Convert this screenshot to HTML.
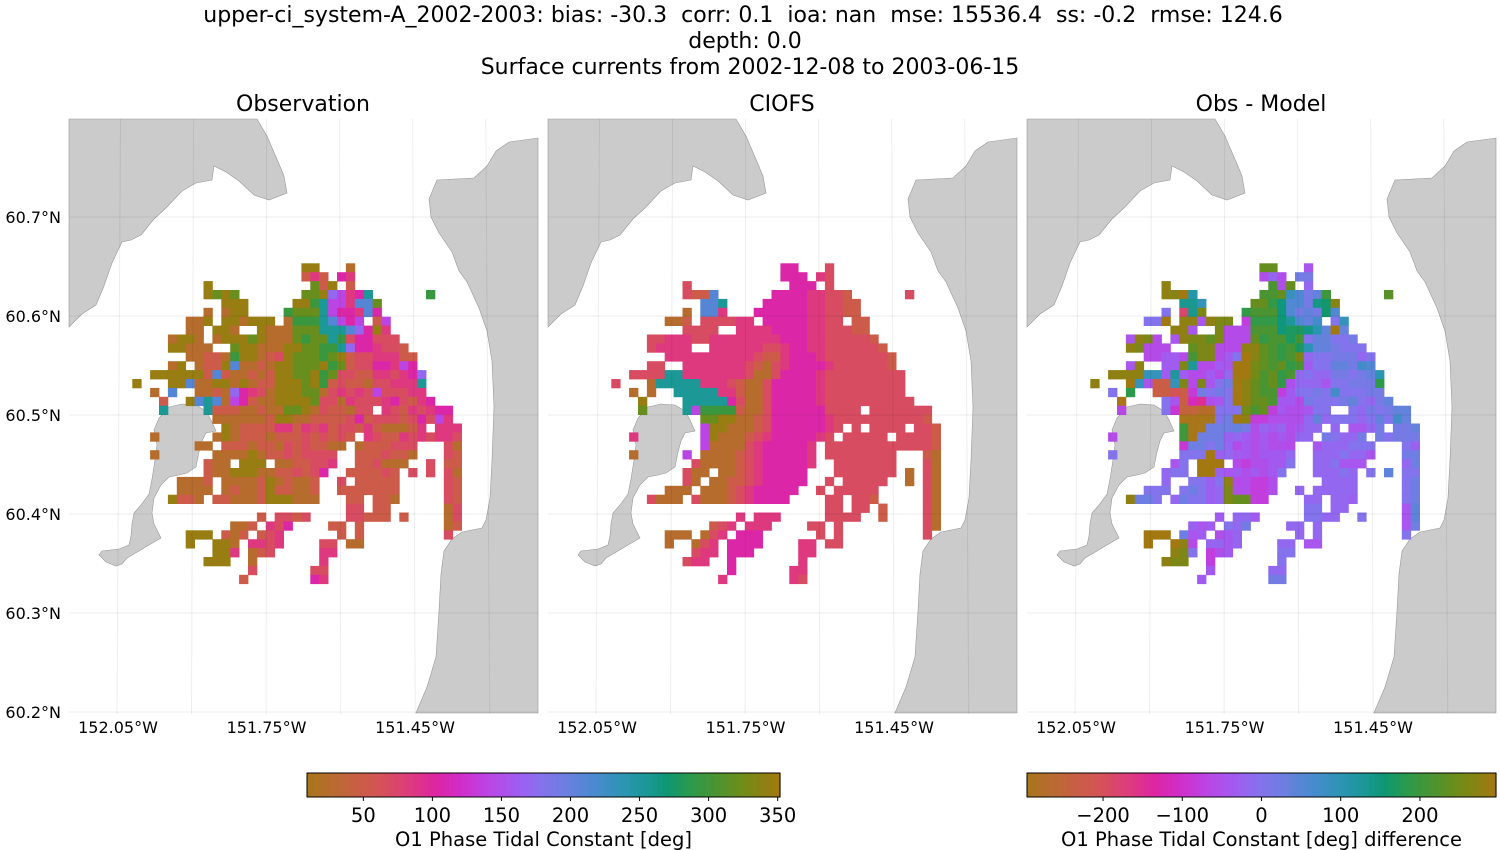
<!DOCTYPE html>
<html><head><meta charset="utf-8"><style>
html,body{margin:0;padding:0;background:#fff;}
svg{display:block;font-family:"DejaVu Sans","Liberation Sans",sans-serif;}
</style></head><body>
<svg id="fig" width="1500" height="850" viewBox="0 0 1500 850" xmlns="http://www.w3.org/2000/svg">
<g font-size="22" text-anchor="middle" fill="#000" style="white-space:pre">
<text x="743" y="22" xml:space="preserve">upper-ci_system-A_2002-2003: bias: -30.3  corr: 0.1  ioa: nan  mse: 15536.4  ss: -0.2  rmse: 124.6</text>
<text x="745" y="48">depth: 0.0</text>
<text x="750" y="74">Surface currents from 2002-12-08 to 2003-06-15</text>
</g>
<g id="panels"></g>
<g id="cbars"></g>
</svg>
<script>
// ---- data ----
const codeKeys = ['b','r','R','p','m','v','u','B','t','g','G','o'];
const codeVals = [25, 50, 68, 85, 105, 140, 170, 210, 255, 295, 320, 345];
const obsRows = [
"19:oo...b","19:rpr.mp","8:o 20:Gro.r","8:oGoG 19:GGouvpmt 33:g","10:ooo 18:oogtvvpBBG",
"8:b.boo 17:gGGGtvmmpBm","6:bbo.oobooo.bgggtBvmv.rv","6:bb.oob..obbbGGGtttBumop",
"4:boob.boooGobbbGgGGtgRmmRRR","4:oobbb..GoobbbooGGggtummpRRr","6:bbrrbgoobrRoGGGgGorRRppprr",
"4:bo.brroBbbrbooGGGogGrRRmmpvm","2:oooooorBrbbrbrooGGogGRRrrppRpmu","0:o 4:ooBbboobobrroooGogrRrrbRRpppt",
"2:b.B 7:bbrbumpRboooGGbRpRpRvRRRpp","3:r 6:oBtBbvmrbbooooGRRbpRRRpmRrpm","3:t 8:trrrbbrbbGGobRrrbRR.pRrpRpmm",
"9:bbbbbbroobbrrrrRmrRRRrRmRvp","10:obrrrrpprpRprRRrprbbbrp.ppp","2:b 9:bobrrrbrrrRrRrRr.pRrrpRpRppR",
"7:bb.rrrbrrbRrRrrbb.brrrRRR...Rb","2:b 9:bbbbobrrRrRRRR..rrrRrrb...Rr","8:rbb.ooo.bbrrRRp..rrRbbb..R.rr",
"8:rbbooobbrrRrRm..rrrrRr.R.R.Rb","5:bbbr.bbbbrobrbbr..R.rrrrr.....Rr","5:bbbb.brbbrorrbbr..rrrrrrr.....Rr",
"4:orrb.rrbbbrooobbb...rr.rrb.....Rr","24:RR.rr 35:bR","14:r.RRrR 24:RRrrr.r 35:bR",
"11:bbr.pRm 22:rr.r 35:br","6:ooo.rbr.rRp 23:r.r 35:R","6:o..oob.ppRp 21:RR.bb",
"9:oop.brR 21:pp","8:ooo..b 21:p","13:R 20:RR","12:r 20:mp"
];
const modelRows = [
"19:mm...R","19:mmm.pR","8:R 20:mmm.R","8:RrrB 18:mmmmppRRr 33:R","10:BBt 17:mmmmmppRRrr",
"8:b.BBp 16:mmmmmmppRRrr","6:bbr.RRRRpp.mmmmmppRR.rr","8:RRRR..ppppmmmmppRRRrr",
"4:RRpppRRppppppppmmmppRRRRRr","4:Rpppp..ppppppRRpmmppRRRRRRr","6:ppppppppppRrrpmmmpRRRRRRRr",
"4:RR..pppppppRrbRpmmmmpRRRRRRr","2:RRRRttpppppppRbbRmmmmpRRRRRRRRR","0:R 4:btttttpppRrbbRmmmmmpRRRRRRRRR",
"2:b.b..tttttpprbbRmmmmmpRRRRRRRRR","3:o 8:tttttmRbbRmmmmmpRRRRRRRRRR","3:G 8:tvggggrbbRmmmmmmRRRR.RRRRRRR",
"10:GGoobbrRmmmmmmpRRRRRRRRRRr","10:voobbbrRmmmmmmpR.R.RRRR.RRr","2:p 10:vobbbrRpmmmmmpR.RRRRR.RRRRr",
"10:vbbbbRpmmmmmp.RRRRRRRRRRRRr","2:b 8:v.bbbbrRpmmmmmp.RRRRRRRR...rb","9:RbbbbrRpmmmmmp..RRRRRRR...Rb",
"8:Rbb.bbrRpmmmmm...RRRRRRR.b.Rb","8:Rb.bbrrRpmmmmm..R.RRRRR..b.Rb","6:bbb.bbbrRpmmmmm..R.RRRRR.....Rb",
"4:Rbbb.RbbbrRpmmmm....RR.RRr.....Rb","24:RR.RR.r 35:Rb","14:p.ppp 24:RRRR..r 35:Rb",
"11:rRp.ppp 22:RR.R 35:Rb","6:bbb.bRp.mmm 23:R.R 35:R","6:b..bRp.mmmm 21:pp.RR",
"9:Rpp.mmm 21:pp","8:Rpp..m 21:p","13:m 20:pp","12:p 20:pR"
];
const latTicks = [60.7, 60.6, 60.5, 60.4, 60.3, 60.2];
const lonTicks = [152.05, 151.75, 151.45];
const obsCbarTicks = [50, 100, 150, 200, 250, 300, 350];
const diffCbarTicks = [-200, -100, 0, 100, 200];
const panelTitles = ['Observation', 'CIOFS', 'Obs - Model'];

// ---- scales / style ----
const NS = 'http://www.w3.org/2000/svg';
const obsMin = 9.2, obsMax = 351.7, diffLim = 296;
const stops = [[0,'#a8761a'],[0.077,'#c0663a'],[0.15,'#d45454'],[0.22,'#de3a7e'],[0.27,'#dd26a0'],[0.32,'#d22cc6'],[0.38,'#bc44e4'],[0.45,'#9e5ef2'],[0.49,'#8870ee'],[0.55,'#6a80e0'],[0.606,'#4a8ad0'],[0.676,'#2896b0'],[0.73,'#18988e'],[0.76,'#0e9674'],[0.81,'#2a9a4c'],[0.866,'#4c9430'],[0.92,'#708c18'],[1,'#a47810']];
function hex2(h){return [1,3,5].map(i=>parseInt(h.substr(i,2),16));}
function cmap(f){f=Math.max(0,Math.min(1,f));for(let i=1;i<stops.length;i++){if(f<=stops[i][0]){const a=stops[i-1],b=stops[i];const t=(f-a[0])/(b[0]-a[0]);const ca=hex2(a[1]),cb=hex2(b[1]);return 'rgb('+ca.map((v,k)=>Math.round(v+(cb[k]-v)*t)).join(',')+')';}}return stops[stops.length-1][1];}
const colX = c => 132.3 + 8.9*c;
const rowY = r => 263.3 + 8.9*r;
function lonToX(lon){return 118 + (152.05 - lon)*495;}
function latToY(lat){return 217 + (60.7 - lat)*990;}
const panelDX = [0, 479, 958];
function parseRows(rows){
  const grid=[];
  rows.forEach((s,r)=>{const row=new Array(37).fill(null);
    s.split(' ').forEach(seg=>{const [st,ch]=seg.split(':');const c0=+st;
      for(let i=0;i<ch.length;i++){const k=codeKeys.indexOf(ch[i]);if(k>=0)row[c0+i]=codeVals[k];}});
    grid.push(row);});
  return grid;
}
const obsGrid = parseRows(obsRows);
const modelGrid = parseRows(modelRows);

const landTop = [[69,119],[257,119],[267,136],[279,164],[284,176],[287,193],[269,200],[254,195],[239,181],[226,172],[214,166],[212,180],[196,183],[182,191],[166,208],[154,219],[141,235],[131,240],[122,242],[112,263],[104,286],[96,305],[82,314],[69,327]];
const landRight = [[538,138],[509,142],[496,151],[487,166],[474,178],[437,180],[429,199],[431,217],[439,233],[452,252],[459,271],[467,282],[479,308],[487,331],[492,361],[494,407],[492,460],[490,498],[486,520],[482,528],[462,532],[452,539],[444,551],[441,574],[439,611],[436,657],[427,687],[416,713],[538,713]];
const landIsland = [[169,407],[182,404],[196,405],[206,411],[211,420],[216,431],[206,433],[202,441],[199,452],[196,467],[187,473],[179,475],[169,477],[161,485],[154,498],[152,513],[154,524],[161,538],[149,545],[139,551],[127,558],[122,564],[116,566],[106,562],[99,555],[102,551],[119,549],[129,545],[131,536],[132,524],[134,513],[141,505],[149,494],[152,479],[155,460],[157,445],[154,430],[159,418]];

function mk(tag,attrs,parent){const e=document.createElementNS(NS,tag);for(const k in attrs)e.setAttribute(k,attrs[k]);parent.appendChild(e);return e;}
const panelsG=document.getElementById('panels');
const panelNames=['observation-panel','ciofs-panel','difference-panel'];
for(let p=0;p<3;p++){
  const dx=panelDX[p];
  const g=mk('g',{transform:'translate('+dx+',0)'},panelsG);
  
  
  const t=mk('text',{x:303,y:111,'font-size':22,'text-anchor':'middle',fill:'#000'},g);
  t.textContent=panelTitles[p];
  
  
  [[landTop,'land-north'],[landRight,'land-east'],[landIsland,'land-island']].forEach(([pts,nm])=>{
    const pl=mk('polygon',{points:pts.map(q=>q.join(',')).join(' '),fill:'#cbcbcb',stroke:'#999','stroke-width':0.6},g);
    
    
  });
  const cg=mk('g',{},g);
  
  
  for(let r=0;r<36;r++)for(let c=0;c<37;c++){
    const o=obsGrid[r]?obsGrid[r][c]:null, m=modelGrid[r]?modelGrid[r][c]:null;
    let col=null;
    if(p===0&&o!==null)col=cmap((o-obsMin)/(obsMax-obsMin));
    if(p===1&&m!==null)col=cmap((m-obsMin)/(obsMax-obsMin));
    if(p===2&&o!==null&&m!==null)col=cmap((o-m+diffLim)/(2*diffLim));
    if(!col)continue;
    const rc=mk('rect',{x:colX(c).toFixed(1),y:rowY(r).toFixed(1),width:9.3,height:9.3,fill:col},cg);
    
    
  }
  const gg=mk('g',{stroke:'#000','stroke-opacity':0.07,'stroke-width':1},g);
  
  
  for(let k=0;k<6;k++){const lon=152.05-0.15*k;const x=lonToX(lon);
    mk('line',{x1:x+2.5-k*1.2,y1:119,x2:x-1+k*0.3,y2:714},gg);}
  latTicks.forEach(lat=>{const y=latToY(lat);mk('line',{x1:69,y1:y,x2:538,y2:y},gg);});
  lonTicks.forEach(lon=>{const tx=mk('text',{x:lonToX(lon),y:733,'font-size':16,'text-anchor':'middle',fill:'#000'},g);
    tx.textContent=lon.toFixed(2)+'°W';
    
    });
  if(p===0){latTicks.forEach(lat=>{const ty=mk('text',{x:61,y:latToY(lat)+6,'font-size':16,'text-anchor':'end',fill:'#000'},g);
    ty.textContent=lat.toFixed(1)+'°N';
    
    });}
}
const cb=document.getElementById('cbars');
function colorbar(x0,x1,vmin,vmax,ticks,label,name,fmt){
  const g=mk('g',{},cb);
  
  
  const n=120,w=(x1-x0)/n;
  for(let i=0;i<n;i++)mk('rect',{x:x0+i*w,y:773,width:w+0.6,height:24,fill:cmap((i+0.5)/n)},g);
  mk('rect',{x:x0,y:773,width:x1-x0,height:24,fill:'none',stroke:'#000','stroke-width':1},g);
  const sx=v=>x0+(v-vmin)/(vmax-vmin)*(x1-x0);
  ticks.forEach(v=>{mk('line',{x1:sx(v),y1:797,x2:sx(v),y2:801,stroke:'#000'},g);
    const t=mk('text',{x:sx(v),y:822,'font-size':19.5,'text-anchor':'middle',fill:'#000'},g);t.textContent=fmt(v);
    
    });
  const l=mk('text',{x:(x0+x1)/2,y:846,'font-size':19.5,'text-anchor':'middle',fill:'#000'},g);l.textContent=label;
  
  
}
colorbar(307,780,obsMin,obsMax,obsCbarTicks,'O1 Phase Tidal Constant [deg]','obs-colorbar',v=>String(v));
colorbar(1027,1496,-diffLim,diffLim,diffCbarTicks,'O1 Phase Tidal Constant [deg] difference','diff-colorbar',v=>v<0?'\u2212'+(-v):String(v));
</script>
</body></html>
